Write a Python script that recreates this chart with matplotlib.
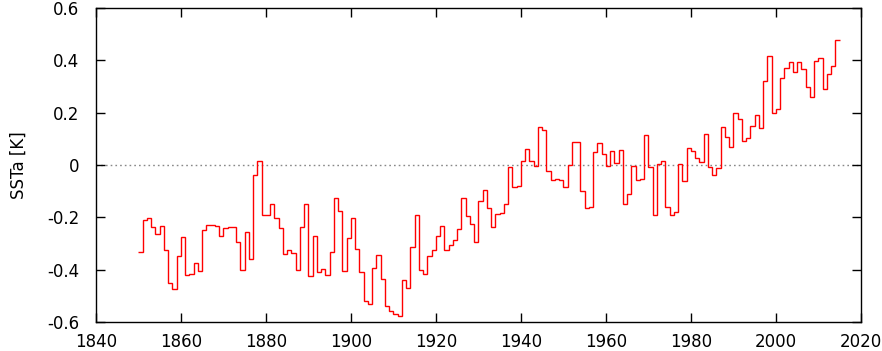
import numpy as np
import matplotlib
matplotlib.use('Agg')
import matplotlib.pyplot as plt

# yearly sea surface temperature anomaly, 1850-2014
years = np.arange(1850, 2015)
ssta = [
    -0.334, -0.211, -0.204, -0.238, -0.265, -0.234, -0.325, -0.452, -0.475, -0.349,
    -0.276, -0.422, -0.418, -0.376, -0.406, -0.250, -0.231, -0.231, -0.234, -0.273,
    -0.242, -0.238, -0.238, -0.296, -0.403, -0.257, -0.361, -0.039, 0.014, -0.192,
    -0.192, -0.150, -0.204, -0.239, -0.341, -0.326, -0.338, -0.403, -0.238, -0.150,
    -0.425, -0.273, -0.410, -0.399, -0.422, -0.334, -0.127, -0.176, -0.406, -0.280,
    -0.204, -0.321, -0.410, -0.521, -0.532, -0.394, -0.345, -0.437, -0.540, -0.558,
    -0.569, -0.577, -0.441, -0.471, -0.313, -0.192, -0.403, -0.417, -0.348, -0.326,
    -0.273, -0.234, -0.326, -0.307, -0.288, -0.245, -0.127, -0.196, -0.227, -0.296,
    -0.139, -0.097, -0.166, -0.238, -0.189, -0.185, -0.150, -0.009, -0.085, -0.082,
    0.014, 0.060, 0.014, -0.005, 0.144, 0.132, -0.024, -0.059, -0.055, -0.059,
    -0.085, -0.001, 0.087, 0.087, -0.099, -0.166, -0.162, 0.048, 0.083, 0.041,
    -0.005, 0.052, 0.006, 0.056, -0.150, -0.112, -0.005, -0.059, -0.055, 0.113,
    -0.009, -0.192, 0.003, 0.014, -0.162, -0.192, -0.181, 0.003, -0.062, 0.064,
    0.052, 0.025, 0.010, 0.117, -0.009, -0.039, -0.013, 0.144, 0.106, 0.068,
    0.197, 0.175, 0.090, 0.102, 0.148, 0.190, 0.140, 0.320, 0.417, 0.197,
    0.213, 0.331, 0.369, 0.392, 0.354, 0.392, 0.366, 0.297, 0.259, 0.396,
    0.408, 0.289, 0.346, 0.377, 0.476,
]
edges = np.append(years, years[-1] + 1)

xticks = list(range(1840, 2021, 20))
yticks = [-0.6, -0.4, -0.2, 0, 0.2, 0.4, 0.6]
ytick_labels = ['-0.6', '-0.4', '-0.2', '0', '0.2', '0.4', '0.6']

plt.rcParams['font.family'] = ['DejaVu Sans']

fig = plt.figure(figsize=(8.82, 3.51), dpi=100)
ax = fig.add_axes([96 / 882, 29 / 351, 765 / 882, 314 / 351])

# zero line
ax.axhline(0, color='#888888', linestyle=(0, (1.2, 2.2)), linewidth=1.0, zorder=1)

# anomaly steps
ax.stairs(ssta, edges, baseline=None, color='#ff0000', linewidth=1.0, zorder=2)

ax.set_xlim(1840, 2020)
ax.set_ylim(-0.6, 0.6)
ax.set_xticks(xticks)
ax.set_yticks(yticks)
ax.set_yticklabels(ytick_labels)
ax.tick_params(direction='in', length=6.5, width=1, top=True, right=True,
               labelsize=12, colors='black')
ax.tick_params(axis='x', pad=8)
ax.tick_params(axis='y', pad=12)
for s in ax.spines.values():
    s.set_linewidth(1)
ax.set_ylabel('SSTa [K]', fontsize=12, labelpad=14)

fig.savefig('out.png', dpi=100)
